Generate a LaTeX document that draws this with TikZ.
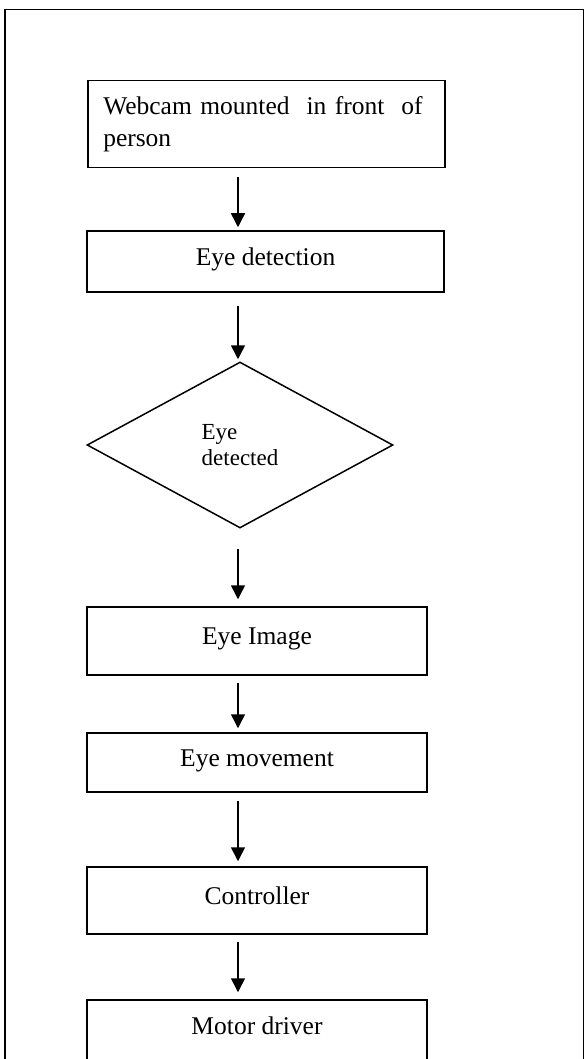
\documentclass[tikz,border=0pt]{standalone}
\usepackage{fontspec}
\setmainfont{Liberation Serif}
\usetikzlibrary{shapes.geometric,arrows.meta}
\begin{document}
\begin{tikzpicture}[x=1pt,y=-1pt,
  boxbase/.style={draw, line width=1.5pt, inner sep=0pt, font=\fontsize{25.5}{32}\selectfont},
  box/.style={boxbase, minimum width=340pt, text height=17.8pt, text depth=10pt},
  widebox/.style={boxbase, minimum width=357pt},
  decision/.style={draw, diamond, line width=1.5pt, inner sep=0pt, minimum width=306pt, minimum height=166pt, align=left, font=\fontsize{23}{26}\selectfont},
  arr/.style={-{Triangle[length=14pt,width=14pt]}, line width=1.5pt},
  frameline/.style={line width=1.6pt}]
\useasboundingbox (0,0) rectangle (585,1059);
\clip (0,0) rectangle (585,1059);
\draw[frameline] (5,1100) -- (5,9.5) -- (583.5,9.5) -- (583.5,1100);
\coordinate (ax) at (238,0);
\node[widebox, anchor=north west, minimum height=87pt, text width=326pt, inner xsep=15.5pt, align=left] (b1) at (87,80) {Webcam mounted\ \ in front\ \ of\\person};
\node[widebox, minimum height=61pt, text height=17.8pt, text depth=10pt] (b2) at (265.5,261.5) {Eye detection};
\node[decision] (dia) at (240,445) {Eye\\detected};
\node[box, minimum height=68pt] (b3) at (257,641) {Eye Image};
\node[box, minimum height=59pt] (b4) at (257,762.5) {Eye movement};
\node[box, minimum height=67pt] (b5) at (257,900.5) {Controller};
\node[box, minimum height=62pt] (b6) at (257,1031) {Motor driver};
\draw[arr, shorten <=9pt, shorten >=3pt] (b1.south -| ax) -- (b2.north -| ax);
\draw[arr, shorten <=13pt, shorten >=2pt] (b2.south -| ax) -- (dia.north -| ax);
\draw[arr, shorten <=20pt, shorten >=7pt] (dia.south -| ax) -- (b3.north -| ax);
\draw[arr, shorten <=7pt, shorten >=4pt] (b3.south -| ax) -- (b4.north -| ax);
\draw[arr, shorten <=8pt, shorten >=5pt] (b4.south -| ax) -- (b5.north -| ax);
\draw[arr, shorten <=7pt, shorten >=7pt] (b5.south -| ax) -- (b6.north -| ax);
\end{tikzpicture}
\end{document}
